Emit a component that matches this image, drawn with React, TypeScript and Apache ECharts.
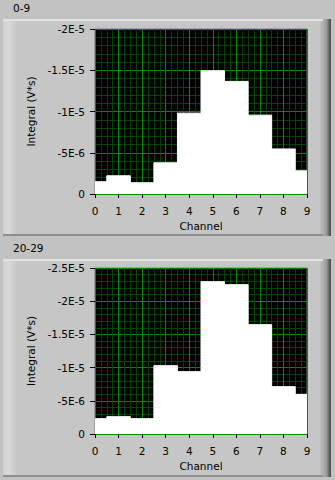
import React, { useEffect, useRef } from "react";
import * as echarts from "echarts";

const channels = [0, 1, 2, 3, 4, 5, 6, 7, 8, 9];
const values0to9 = [-1.49e-6, -2.21e-6, -1.37e-6, -3.78e-6, -9.8e-6, -1.494e-5, -1.365e-5, -9.56e-6, -5.46e-6, -2.81e-6];
const values20to29 = [-2.31e-6, -2.61e-6, -2.31e-6, -1.029e-5, -9.39e-6, -2.294e-5, -2.249e-5, -1.647e-5, -7.13e-6, -5.97e-6];
const panelTitles = ["0-9", "20-29"];
const yMins = [-2e-5, -2.5e-5];
const yInterval = 5e-6;
const xLabel = "Channel";
const yLabel = "Integral (V*s)";

const FONT = "DejaVu Sans";
const FS = 10.5;

function fmt(v: number): string {
  if (Math.abs(v) < 1e-12) return "0";
  const e = Math.floor(Math.log10(Math.abs(v)) + 1e-9);
  const m = Math.round((v / Math.pow(10, e)) * 100) / 100;
  return `${m}E${e}`;
}

function panelGraphics(top: number, h: number) {
  const left = 3;
  const w = 328;
  return [
    { type: "rect", z: -10, shape: { x: left, y: top, width: w, height: h }, style: { fill: "#c6c6c6" } },
    {
      type: "rect", z: -9, shape: { x: left, y: top, width: 14, height: h },
      style: { fill: { type: "linear", x: 0, y: 0, x2: 1, y2: 0, colorStops: [
        { offset: 0, color: "#cfcfcf" }, { offset: 0.4, color: "#dadada" }, { offset: 1, color: "#c6c6c6" } ] } },
    },
    {
      type: "rect", z: -9, shape: { x: 320, y: top, width: 11, height: h },
      style: { fill: { type: "linear", x: 0, y: 0, x2: 1, y2: 0, colorStops: [
        { offset: 0, color: "#c0c0c0" }, { offset: 0.6, color: "#9a9a9a" }, { offset: 0.8, color: "#6a6a6a" }, { offset: 1, color: "#4a4a4a" } ] } },
    },
    { type: "rect", z: -8, shape: { x: left, y: top, width: w - 8, height: 2 }, style: { fill: "#e2e2e2" } },
    { type: "rect", z: -8, shape: { x: left, y: top + h - 2, width: w - 8, height: 2 }, style: { fill: "#8e8e8e" } },
  ];
}

export default function App() {
  const ref = useRef<HTMLDivElement>(null);
  useEffect(() => {
    if (!ref.current) return;
    const chart = echarts.init(ref.current, undefined, { renderer: "svg" });
    const grids = [
      { left: 95, top: 29, width: 212, height: 165 },
      { left: 95, top: 268, width: 212, height: 166 },
    ];
    const seriesData = [values0to9, values20to29];
    const option: any = {
      animation: false,
      backgroundColor: "#c2c2c2",
      textStyle: { fontFamily: FONT },
      graphic: [
        ...panelGraphics(19, 217),
        ...panelGraphics(259, 218),
        { type: "text", left: 13, top: 2, style: { text: panelTitles[0], fill: "#000", font: `${FS}px "${FONT}"` } },
        { type: "text", left: 13, top: 242, style: { text: panelTitles[1], fill: "#000", font: `${FS}px "${FONT}"` } },
      ],
      grid: grids.map((g) => ({
        ...g,
        show: true,
        backgroundColor: "#000",
        borderColor: "#7c7c7c",
        borderWidth: 1,
        containLabel: false,
      })),
      xAxis: grids.map((_, i) => ({
        type: "value",
        gridIndex: i,
        min: 0,
        max: 9,
        interval: 1,
        offset: 3,
        name: xLabel,
        nameLocation: "middle",
        nameGap: 23,
        nameTextStyle: { color: "#000", fontSize: FS, fontFamily: FONT },
        axisLine: { show: false },
        axisTick: { show: true, length: 4, lineStyle: { color: "#000" } },
        axisLabel: { color: "#000", fontSize: FS, fontFamily: FONT, margin: 8 },
        splitLine: { show: true, lineStyle: { color: "#008c00", width: 1 } },
        minorTick: { show: false, splitNumber: 4 },
        minorSplitLine: { show: true, lineStyle: { color: "#004400", width: 1 } },
      })),
      yAxis: grids.map((_, i) => ({
        type: "value",
        gridIndex: i,
        inverse: true,
        min: yMins[i],
        max: 0,
        interval: yInterval,
        offset: 3,
        name: yLabel,
        nameLocation: "middle",
        nameGap: 48,
        nameRotate: 90,
        nameTextStyle: { color: "#000", fontSize: FS, fontFamily: FONT },
        axisLine: { show: false },
        axisTick: { show: true, length: 5, lineStyle: { color: "#000" } },
        axisLabel: { color: "#000", fontSize: FS, fontFamily: FONT, margin: 7, formatter: fmt },
        splitLine: { show: true, lineStyle: { color: "#008c00", width: 1 } },
        minorTick: { show: false, splitNumber: 5 },
        minorSplitLine: { show: true, lineStyle: { color: "#004400", width: 1 } },
      })),
      series: seriesData.map((vals, i) => ({
        type: "line",
        xAxisIndex: i,
        yAxisIndex: i,
        step: "middle",
        symbol: "none",
        data: channels.map((c, k) => [c, vals[k]]),
        lineStyle: { color: "#fff", width: 1 },
        areaStyle: { color: "#fff", opacity: 1 },
        z: 3,
      })),
    };
    chart.setOption(option);
    return () => chart.dispose();
  }, []);
  return <div ref={ref} style={{ position: "fixed", left: 0, top: 0, width: 335, height: 480 }} />;
}
